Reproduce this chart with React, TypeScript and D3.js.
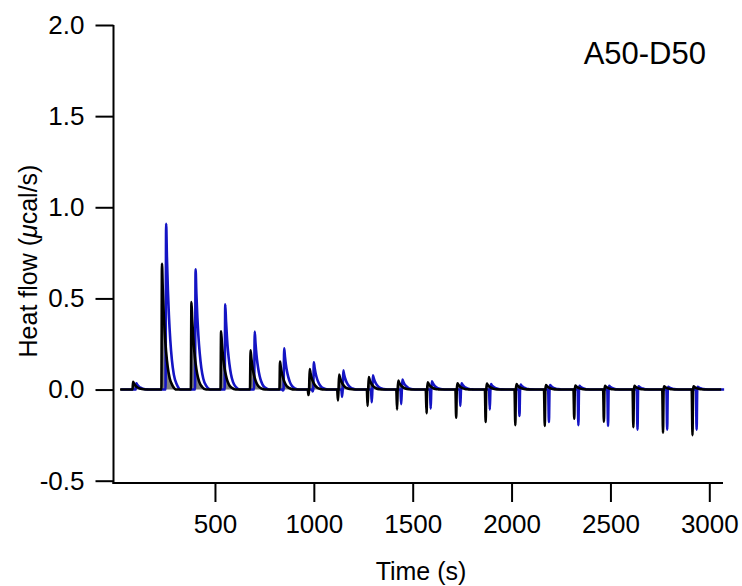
import React, { useEffect, useRef } from "react";
import * as d3 from "d3";

// injection times (s) and heights
const blackTimes = [80, 226, 375, 525, 674, 823, 973, 1122, 1272, 1421, 1570, 1720, 1869, 2019, 2168, 2317, 2467, 2616, 2766, 2915];
const blueTimes = [96, 247, 396, 546, 695, 844, 994, 1143, 1293, 1442, 1591, 1741, 1890, 2040, 2189, 2338, 2488, 2637, 2787, 2936];
const blackPeaks = [0.043, 0.69, 0.48, 0.32, 0.215, 0.153, 0.113, 0.083, 0.068, 0.05, 0.04, 0.035, 0.033, 0.03, 0.025, 0.022, 0.02, 0.02, 0.018, 0.018];
const bluePeaks = [0.035, 0.91, 0.66, 0.468, 0.318, 0.226, 0.15, 0.105, 0.078, 0.055, 0.046, 0.035, 0.03, 0.028, 0.025, 0.02, 0.02, 0.018, 0.015, 0.015];
const blackDips = [0, 0, 0, 0, 0, 0, -0.03, -0.06, -0.09, -0.11, -0.13, -0.155, -0.178, -0.195, -0.2, -0.16, -0.176, -0.206, -0.237, -0.25];
const blueDips = [0, 0, 0, 0, 0, -0.005, -0.01, -0.04, -0.07, -0.08, -0.105, -0.09, -0.11, -0.145, -0.178, -0.195, -0.2, -0.22, -0.22, -0.22];

// shape of one injection (offset in s, fraction)
const profileOffsets = [-4, 0, 3, 6, 10, 15, 20, 27, 35, 45, 60, 80];
const dipProfile = [0, 1, 0, 0, 0, 0, 0, 0, 0, 0, 0, 0];
const peakProfile = [0, 0, 0, 1, 0.8, 0.6, 0.45, 0.3, 0.18, 0.09, 0.03, 0];

const blackRange = [20, 3060];
const blueRange = [25, 3075];

const xTicks = [500, 1000, 1500, 2000, 2500, 3000];
const yTicks = [-0.5, 0, 0.5, 1.0, 1.5, 2.0];

type Pt = { t: number; v: number };

function buildTrace(times: number[], peaks: number[], dips: number[], range: number[]): Pt[] {
  const pts: Pt[] = [{ t: range[0], v: 0 }];
  times.forEach((t0, i) => {
    profileOffsets.forEach((o, k) => {
      pts.push({ t: t0 + o, v: dips[i] * dipProfile[k] + peaks[i] * peakProfile[k] });
    });
  });
  pts.push({ t: range[1], v: 0 });
  return pts;
}

function Thermogram() {
  const ref = useRef<SVGSVGElement>(null);

  useEffect(() => {
    const svg = d3.select(ref.current);
    svg.selectAll("*").remove();

    const font = "Helvetica, Arial, 'Liberation Sans', sans-serif";
    const x = d3.scaleLinear().domain([0, 3000]).range([116.1, 709.3]);
    const y = d3.scaleLinear().domain([-0.5, 2]).range([480.7, 25]);
    const xAxisY = 483;
    const yAxisX = 113.5;

    const black = buildTrace(blackTimes, blackPeaks, blackDips, blackRange);
    const blue = buildTrace(blueTimes, bluePeaks, blueDips, blueRange);

    const area = d3
      .area<Pt>()
      .x((d) => x(d.t))
      .y0(y(0))
      .y1((d) => y(d.v))
      .curve(d3.curveMonotoneX);

    const line = d3
      .line<Pt>()
      .x((d) => x(d.t))
      .y((d) => y(d.v))
      .curve(d3.curveMonotoneX);

    svg.append("path").datum(black).attr("fill", "#808080").attr("d", area);
    svg
      .append("path")
      .datum(blue)
      .attr("fill", "none")
      .attr("stroke", "#1414c4")
      .attr("stroke-width", 2.6)
      .attr("stroke-linejoin", "round")
      .attr("d", line);
    svg
      .append("path")
      .datum(black)
      .attr("fill", "none")
      .attr("stroke", "#000")
      .attr("stroke-width", 2.6)
      .attr("stroke-linejoin", "round")
      .attr("d", line);

    // axes
    const yAxis = svg
      .append("g")
      .attr("transform", `translate(${yAxisX},0)`)
      .call(
        d3
          .axisLeft(y)
          .tickValues(yTicks)
          .tickSize(18)
          .tickSizeOuter(0)
          .tickPadding(11)
          .tickFormat((d) => (d as number).toFixed(1))
      );
    yAxis.select(".domain").remove();
    yAxis.selectAll("line").attr("stroke", "#000").attr("stroke-width", 2);
    yAxis
      .selectAll("text")
      .attr("font-family", font)
      .attr("font-size", 26)
      .attr("fill", "#000");

    const xAxis = svg
      .append("g")
      .attr("transform", `translate(0,${xAxisY})`)
      .call(d3.axisBottom(x).tickValues(xTicks).tickSize(19).tickSizeOuter(0).tickPadding(13).tickFormat((d) => String(d)));
    xAxis.select(".domain").remove();
    xAxis.selectAll("line").attr("stroke", "#000").attr("stroke-width", 2);
    xAxis
      .selectAll("text")
      .attr("font-family", font)
      .attr("font-size", 26)
      .attr("fill", "#000");

    svg
      .append("line")
      .attr("x1", yAxisX)
      .attr("x2", yAxisX)
      .attr("y1", y(2))
      .attr("y2", xAxisY + 1)
      .attr("stroke", "#000")
      .attr("stroke-width", 2);
    svg
      .append("line")
      .attr("x1", yAxisX - 1)
      .attr("x2", 723)
      .attr("y1", xAxisY)
      .attr("y2", xAxisY)
      .attr("stroke", "#000")
      .attr("stroke-width", 2);

    // labels
    const yLabel = svg
      .append("text")
      .attr("transform", `translate(37,261) rotate(-90)`)
      .attr("text-anchor", "middle")
      .attr("font-family", font)
      .attr("font-size", 25);
    yLabel.append("tspan").text("Heat flow (");
    yLabel.append("tspan").attr("font-style", "italic").text("\u03bc");
    yLabel.append("tspan").text("cal/s)");

    svg
      .append("text")
      .attr("x", 421)
      .attr("y", 580)
      .attr("text-anchor", "middle")
      .attr("font-family", font)
      .attr("font-size", 25)
      .text("Time (s)");

    svg
      .append("text")
      .attr("x", 706)
      .attr("y", 64)
      .attr("text-anchor", "end")
      .attr("font-family", font)
      .attr("font-size", 31)
      .text("A50-D50");
  }, []);

  return (
    <svg
      ref={ref}
      width={742}
      height={586}
      style={{ position: "absolute", left: 0, top: 0, background: "#fff" }}
    />
  );
}

export default function App() {
  return <Thermogram />;
}
